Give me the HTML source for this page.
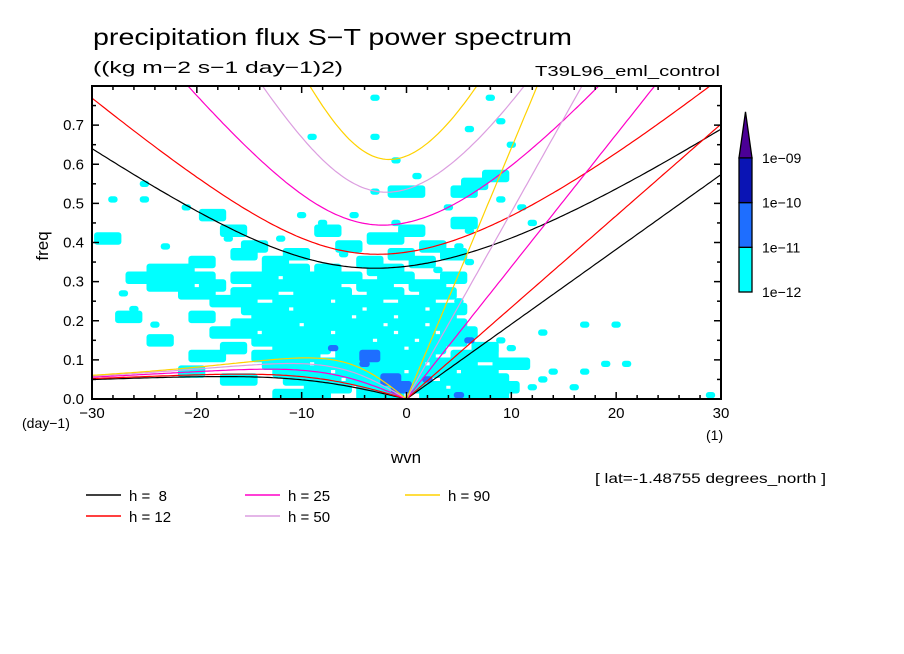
<!DOCTYPE html>
<html><head><meta charset="utf-8"><style>
body{margin:0;background:#fff;}
svg{display:block;font-family:"Liberation Sans",sans-serif;}
</style></head><body>
<svg id="chart" width="904" height="654" viewBox="0 0 904 654">
<rect width="904" height="654" fill="#fff"/>
<defs><clipPath id="pc"><rect x="92" y="86" width="629" height="313"/></clipPath></defs>
<text x="93" y="45" font-size="23" textLength="479" lengthAdjust="spacingAndGlyphs">precipitation flux S−T power spectrum</text>
<text x="93" y="73" font-size="17" textLength="250" lengthAdjust="spacingAndGlyphs">((kg m−2 s−1 day−1)2)</text>
<text x="720" y="76" font-size="15" text-anchor="end" textLength="185" lengthAdjust="spacingAndGlyphs">T39L96_eml_control</text>
<g id="cells" clip-path="url(#pc)"></g>
<g id="curves" clip-path="url(#pc)"></g>
<g id="axes"></g>
<text transform="translate(48,246) rotate(-90)" font-size="17" text-anchor="middle">freq</text>
<text x="406" y="463" font-size="17" text-anchor="middle">wvn</text>
<text x="22" y="428" font-size="14">(day−1)</text>
<text x="706" y="440" font-size="14">(1)</text>
<text x="595" y="483" font-size="14" textLength="231" lengthAdjust="spacingAndGlyphs">[ lat=-1.48755 degrees_north ]</text>
<g id="colorbar"></g>
<g id="legend"></g>
</svg>
<script>
// ---- data ----
const depths = [8, 12, 25, 50, 90];
const depthColors = ["#000000", "#ff0000", "#ff00c8", "#dc9ee0", "#ffd200"];
const xTicks = [-30, -20, -10, 0, 10, 20, 30];
const yTicks = [0.0, 0.1, 0.2, 0.3, 0.4, 0.5, 0.6, 0.7];
const levelLabels = ["1e-12", "1e-11", "1e-10", "1e-09"];
const levelColors = ["#00ffff", "#1e6eff", "#0a14b4", "#4b0096"];
// spectrum cells: lower freq bound of each row (step 0.02), runs [s0, s1, level]
const rowFreqs = [0.76,0.70,0.68,0.66,0.64,0.60,0.56,0.54,0.52,0.50,0.48,0.46,0.44,0.42,0.40,0.38,0.36,0.34,0.32,0.30,0.28,0.26,0.24,0.22,0.20,0.18,0.16,0.14,0.12,0.10,0.08,0.06,0.04,0.02,0.00];
const rowRuns = [
 [[-3,-3,1],[8,8,1]],
 [[9,9,1]],
 [[6,6,1]],
 [[-9,-9,1],[-3,-3,1]],
 [[10,10,1]],
 [[-1,-1,1]],
 [[1,1,1],[8,9,1]],
 [[-25,-25,1],[6,7,1]],
 [[-3,-3,1],[-1,1,1],[5,6,1]],
 [[-28,-28,1],[-25,-25,1],[9,9,1]],
 [[-21,-21,1],[4,4,1],[11,11,1]],
 [[-19,-18,1],[-10,-10,1],[-5,-5,1]],
 [[-8,-8,1],[-1,-1,1],[5,6,1],[12,12,1]],
 [[-17,-16,1],[-8,-7,1],[0,1,1],[6,6,1]],
 [[-29,-28,1],[-17,-17,1],[-12,-12,1],[-3,-1,1]],
 [[-23,-23,1],[-15,-14,1],[-6,-5,1],[2,3,1],[5,5,1]],
 [[-16,-15,1],[-11,-10,1],[-6,-6,1],[-1,0,1],[4,5,1]],
 [[-20,-19,1],[-13,-12,1],[-4,-3,1],[1,2,1],[6,6,1]],
 [[-24,-21,1],[-13,-10,1],[-8,-7,1],[-3,-1,1],[3,3,1]],
 [[-26,-19,1],[-16,-13,1],[-11,-5,1],[-2,0,1],[4,5,1]],
 [[-24,-21,1],[-19,-18,1],[-14,-7,1],[-4,-2,1],[1,3,1]],
 [[-27,-27,1],[-21,-19,1],[-16,-13,1],[-10,-6,1],[-3,-1,1],[2,4,1]],
 [[-18,-15,1],[-12,-8,1],[-6,-3,1],[0,2,1],[5,5,1]],
 [[-26,-26,1],[-15,-12,1],[-10,-5,1],[-3,1,1],[3,5,1]],
 [[-27,-26,1],[-20,-19,1],[-14,-6,1],[-4,-2,1],[0,4,1]],
 [[-24,-24,1],[-16,-11,1],[-9,-3,1],[-1,1,1],[3,5,1],[17,17,1],[20,20,1]],
 [[-18,-15,1],[-13,-8,1],[-6,-2,1],[0,2,1],[4,6,1],[13,13,1]],
 [[-24,-23,1],[-14,-4,1],[-2,0,1],[2,5,1],[6,6,2],[9,9,1]],
 [[-17,-16,1],[-12,-8,1],[-7,-7,2],[-6,-1,1],[1,3,1],[7,8,1],[10,10,1]],
 [[-20,-18,1],[-14,-9,1],[-6,-5,1],[-4,-3,2],[-2,2,1],[5,8,1]],
 [[-13,-10,1],[-8,-5,1],[-4,-4,2],[-3,1,1],[3,6,1],[9,11,1],[19,19,1],[21,21,1]],
 [[-21,-20,1],[-12,-8,1],[-6,-1,1],[1,4,1],[6,8,1],[14,14,1],[17,17,1]],
 [[-17,-15,1],[-11,-7,1],[-5,-3,1],[-2,-1,2],[0,1,1],[2,2,2],[4,9,1],[13,13,1]],
 [[-9,-6,1],[-4,-2,1],[-1,0,2],[1,3,1],[5,10,1],[12,12,1],[16,16,1]],
 [[-12,-8,1],[-4,-1,1],[2,4,1],[5,5,2],[6,9,1],[29,29,1]]
];
// ---- scales ----
const X0 = 92, X1 = 721, Y0 = 399, Y1 = 86;
const xs = s => X0 + (s + 30) / 60 * (X1 - X0);
const ys = f => Y0 - f / 0.8 * (Y0 - Y1);
const NS = "http://www.w3.org/2000/svg";
function mk(tag, attrs, parent) {
  const e = document.createElementNS(NS, tag);
  for (const k in attrs) e.setAttribute(k, attrs[k]);
  parent.appendChild(e); return e;
}
// ---- cells ----
const cellG = document.getElementById('cells');
[1, 2, 3].forEach(lvl => {
  rowFreqs.forEach((f, i) => {
    rowRuns[i].forEach(r => {
      if (r[2] !== lvl) return;
      const single = r[0] === r[1];
      const pad = lvl === 1 ? (single ? 0.45 : 0.8) : 0.5;
      const x = xs(r[0] - pad), w = xs(r[1] + pad) - x;
      const y = single ? ys(f + 0.018) : ys(f + 0.026);
      const h = (single ? ys(f + 0.002) : ys(f - 0.006)) - y;
      const c = mk('rect', {x: x.toFixed(1), y: y.toFixed(1), width: w.toFixed(1), height: h.toFixed(1), fill: levelColors[r[2] - 1], rx: 3}, cellG);
      
      
    });
  });
});
// ---- dispersion curves ----
const g = 9.81, Om = 7.292e-5, A = 6.371e6, beta = 2 * Om / A, toCpd = 86400 / (2 * Math.PI);
function cubicRoot(k, c, w0) {
  let w = w0;
  for (let i = 0; i < 60; i++) {
    const F = w * w * w - (c * c * k * k + 3 * beta * c) * w - beta * k * c * c;
    const d = 3 * w * w - (c * c * k * k + 3 * beta * c);
    w -= F / d;
  }
  return w;
}
const curveG = document.getElementById('curves');
depths.forEach((h, j) => {
  const c = Math.sqrt(g * h);
  let kel = [], ig = [], ros = [];
  for (let s = -30; s <= 30.001; s += 0.25) {
    const k = s / A;
    const wIG = cubicRoot(k, c, Math.sqrt(c * c * k * k + 3 * beta * c) * 1.05);
    ig.push([xs(s), ys(wIG * toCpd)]);
    if (s >= 0) kel.push([xs(s), ys(c * k * toCpd)]);
    if (s <= 0) {
      const w0 = -beta * k / (k * k + 3 * beta / c);
      const wr = s === 0 ? 0 : cubicRoot(k, c, w0);
      ros.push([xs(s), ys(wr * toCpd)]);
    }
  }
  [['ig', ig], ['kelvin', kel], ['rossby', ros]].forEach(([nm, pts]) => {
    const p = mk('polyline', {points: pts.map(q => q[0].toFixed(1) + ',' + q[1].toFixed(1)).join(' '), fill: 'none', stroke: depthColors[j], 'stroke-width': 1.2}, curveG);
    
    
  });
});
// ---- axes ----
const ax = document.getElementById('axes');
const fr = mk('rect', {x: X0, y: Y1, width: X1 - X0, height: Y0 - Y1, fill: 'none', stroke: '#000', 'stroke-width': 2}, ax);


for (let s = -30; s <= 30; s += 2) {
  const L = (s % 10 === 0) ? 7 : 4;
  mk('line', {x1: xs(s), x2: xs(s), y1: Y0, y2: Y0 - L, stroke: '#000', 'stroke-width': 1.5}, ax);
  mk('line', {x1: xs(s), x2: xs(s), y1: Y1, y2: Y1 + L, stroke: '#000', 'stroke-width': 1.5}, ax);
}
for (let f = 0; f <= 0.8001; f += 0.05) {
  const L = (Math.round(f * 100) % 10 === 0) ? 7 : 4;
  mk('line', {x1: X0, x2: X0 + L, y1: ys(f), y2: ys(f), stroke: '#000', 'stroke-width': 1.5}, ax);
  mk('line', {x1: X1, x2: X1 - L, y1: ys(f), y2: ys(f), stroke: '#000', 'stroke-width': 1.5}, ax);
}
xTicks.forEach(s => {
  const t = mk('text', {x: xs(s), y: 418, 'font-size': 15, 'text-anchor': 'middle'}, ax);
  t.textContent = s < 0 ? '−' + Math.abs(s) : String(s);
  
  
});
yTicks.forEach(f => {
  const t = mk('text', {x: 84, y: ys(f) + 5, 'font-size': 15, 'text-anchor': 'end'}, ax);
  t.textContent = f.toFixed(1);
  
  
});
// ---- colorbar ----
const cb = document.getElementById('colorbar');
const cbX = 739, cbW = 13, cbBot = 292, cbStep = 44.7;
for (let i = 0; i < 3; i++) {
  const r = mk('rect', {x: cbX, y: cbBot - (i + 1) * cbStep, width: cbW, height: cbStep, fill: levelColors[i], stroke: '#000', 'stroke-width': 1.3}, cb);
  
  
}
const triTop = cbBot - 3 * cbStep;
const tri = mk('polygon', {points: `${cbX},${triTop} ${cbX + cbW},${triTop} ${cbX + cbW / 2},${triTop - 46}`, fill: levelColors[3], stroke: '#000', 'stroke-width': 1.3}, cb);


levelLabels.forEach((lb, i) => {
  const t = mk('text', {x: 762, y: cbBot - i * cbStep + 5, 'font-size': 14}, cb);
  t.textContent = lb.replace('-', '−');
  
  
});
// ---- legend ----
const lg = document.getElementById('legend');
const legPos = [[86, 495], [86, 516], [245, 495], [245, 516], [405, 495]];
depths.forEach((h, i) => {
  const [lx, ly] = legPos[i];
  const l = mk('line', {x1: lx, x2: lx + 35, y1: ly, y2: ly, stroke: depthColors[i], 'stroke-width': 1.5}, lg);
  
  
  const t = mk('text', {x: lx + 43, y: ly + 6, 'font-size': 15}, lg);
  t.textContent = 'h = ' + (h < 10 ? '\u00a0' + h : h);
  
  
});
</script>
</body></html>
